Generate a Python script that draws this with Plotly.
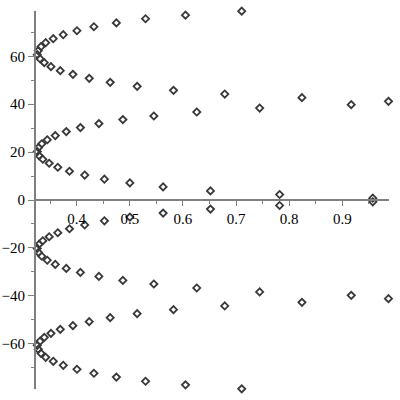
import plotly.graph_objects as go

# Upper half points (x, y)
x_upper = [0.7107, 0.6049, 0.5297, 0.4748, 0.4325, 0.4006, 0.3748, 0.3560, 0.3417, 0.3329,
           0.3278, 0.3259, 0.3310, 0.3391, 0.3517, 0.3692, 0.3930, 0.4237, 0.4632, 0.5139,
           0.5823, 0.6788, 0.8241, 0.9870, 0.9169, 0.7445, 0.6261, 0.5453, 0.4870, 0.4419,
           0.4071, 0.3805, 0.3598, 0.3447, 0.3344, 0.3282, 0.3259, 0.3291, 0.3363, 0.3483,
           0.3645, 0.3865, 0.4152, 0.4523, 0.5002, 0.5628, 0.6519, 0.7821, 0.9575]
y_upper = [78.89, 77.22, 75.72, 73.97, 72.38, 70.71, 69.04, 67.38, 65.71, 64.04,
           62.37, 60.70, 59.03, 57.36, 55.69, 54.03, 52.48, 50.81, 49.14, 47.47,
           45.81, 44.26, 42.76, 41.22, 39.84, 38.42, 36.75, 35.09, 33.58, 31.91,
           30.25, 28.58, 26.91, 25.16, 23.49, 21.90, 20.23, 18.56, 17.02, 15.35,
           13.68, 12.01, 10.43, 8.68, 7.13, 5.47, 3.80, 2.29, 0.75]

# Lower half points (mirror image in the picture)
x_lower = [0.7107, 0.6049, 0.5297, 0.4748, 0.4325, 0.4006, 0.3748, 0.3560, 0.3417, 0.3329,
           0.3278, 0.3259, 0.3310, 0.3391, 0.3517, 0.3692, 0.3930, 0.4237, 0.4632, 0.5139,
           0.5823, 0.6788, 0.8241, 0.9870, 0.9169, 0.7445, 0.6261, 0.5453, 0.4870, 0.4419,
           0.4071, 0.3805, 0.3598, 0.3447, 0.3344, 0.3282, 0.3259, 0.3291, 0.3363, 0.3483,
           0.3645, 0.3865, 0.4152, 0.4523, 0.5002, 0.5628, 0.6519, 0.7821, 0.9575]
y_lower = [-78.89, -77.22, -75.72, -73.97, -72.38, -70.71, -69.04, -67.38, -65.71, -64.04,
           -62.37, -60.70, -59.03, -57.36, -55.69, -54.03, -52.48, -50.81, -49.14, -47.47,
           -45.81, -44.26, -42.76, -41.22, -39.84, -38.42, -36.75, -35.09, -33.58, -31.91,
           -30.25, -28.58, -26.91, -25.16, -23.49, -21.90, -20.23, -18.56, -17.02, -15.35,
           -13.68, -12.01, -10.43, -8.68, -7.13, -5.47, -3.80, -2.29, -0.75]

x_range = [0.3235, 0.988]
y_range = [-78.95, 78.95]

marker = dict(symbol="diamond-open", size=5.5, color="#383838", line=dict(width=1.8, color="#383838"))

fig = go.Figure()
fig.add_trace(go.Scatter(x=x_upper, y=y_upper, mode="markers", marker=marker, cliponaxis=False, showlegend=False))
fig.add_trace(go.Scatter(x=x_lower, y=y_lower, mode="markers", marker=marker, cliponaxis=False, showlegend=False))

font = dict(family="Liberation Serif", size=15, color="#000000")
axcol = "#808080"
fig.update_layout(
    width=400, height=400,
    margin=dict(l=36, r=11, t=10.5, b=10.5),
    paper_bgcolor="white", plot_bgcolor="white",
    xaxis=dict(range=x_range, showgrid=False, zeroline=False, showline=True, linecolor=axcol, linewidth=2,
               anchor="free", position=(0 - y_range[0]) / (y_range[1] - y_range[0]), side="bottom",
               ticks="outside", ticklen=5, tickwidth=1, tickcolor=axcol, tick0=0, dtick=0.1,
               minor=dict(ticks="outside", ticklen=3, tickcolor=axcol, dtick=0.05, tick0=0, showgrid=False),
               tickfont=font, tickformat=".1f", automargin=False),
    yaxis=dict(range=y_range, showgrid=False, zeroline=False, showline=True, linecolor=axcol, linewidth=2,
               ticks="outside", ticklen=6, tickwidth=1, tickcolor=axcol, tick0=0, dtick=20,
               minor=dict(ticks="outside", ticklen=3, tickcolor=axcol, dtick=10, tick0=0, showgrid=False),
               tickfont=font, automargin=False),
)
fig.write_html("out.html", config={"displayModeBar": False},
               post_script="document.body.style.margin='0';document.body.style.overflow='hidden';")
